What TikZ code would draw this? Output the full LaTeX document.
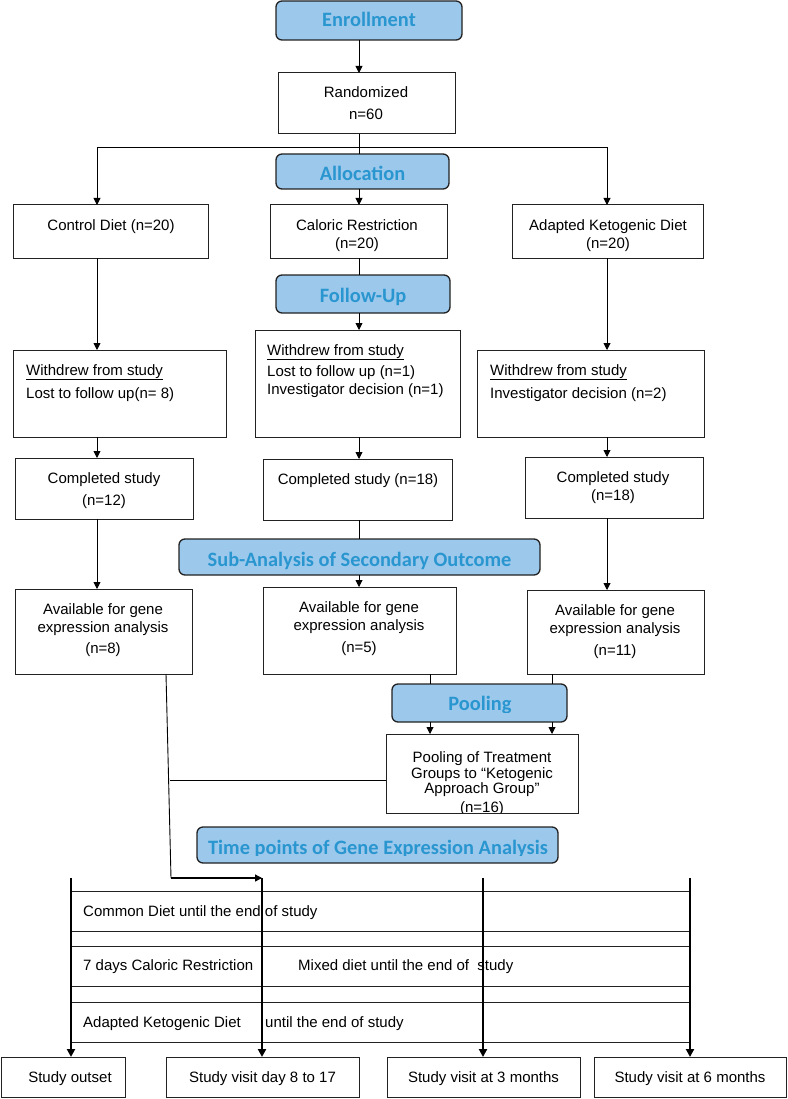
\documentclass[tikz,border=0pt]{standalone}
\usepackage{fontspec}
\setmainfont{Liberation Sans}
\newfontfamily\hdrfont{Carlito}
\usetikzlibrary{arrows.meta,fit}
\definecolor{hdrfill}{HTML}{9CC8EC}
\definecolor{hdrtext}{HTML}{2A96D0}
\definecolor{edge}{HTML}{222222}
\begin{document}
\begin{tikzpicture}[x=1pt,y=-1pt,
  box/.style={draw=edge, line width=1pt, inner sep=0pt, outer sep=0pt},
  hdr/.style={draw=edge, line width=1.3pt, fill=hdrfill, rounded corners=6pt, inner sep=0pt, outer sep=0pt},
  htxt/.style={font=\hdrfont\bfseries\fontsize{20.4}{24}\selectfont, text=hdrtext, inner sep=0pt, anchor=base},
  txt/.style={font=\fontsize{15}{18}\selectfont, inner sep=0pt, anchor=base},
  ltxt/.style={txt, anchor=base west},
  conn/.style={draw=black, line width=0.9pt},
  arr/.style={conn, -{Triangle[length=7pt,width=7pt]}},
  tline/.style={draw=black, line width=2pt, -{Triangle[length=8pt,width=8pt]}},
  thin/.style={draw=edge, line width=1pt},
]
\useasboundingbox (0,0) rectangle (787,1099);

% column coordinates
\coordinate (xL) at (97,0);
\coordinate (xM) at (359,0);
\coordinate (xR) at (607,0);
\coordinate (p1) at (430,0);
\coordinate (p2) at (552,0);
\coordinate (s0) at (166,0);

% ---------- headers ----------
\node[hdr, fit={(276,1)(462,40)}] (enr) {};
\node[htxt] (enrt) at (369,27) {Enrollment};
\node[hdr, fit={(276,154)(449,189)}] (alc) {};
\node[htxt] (alct) at (362.5,181) {Allocation};
\node[hdr, fit={(276,275)(450,313)}] (fup) {};
\node[htxt] (fupt) at (363,302) {Follow-Up};
\node[hdr, fit={(179,539)(540,575)}] (sub) {};
\begin{scope}
\clip (179,539) rectangle (540,569);
\node[htxt] (subt) at (359.5,566) {Sub-Analysis of Secondary Outcome};
\end{scope}
\node[hdr, fit={(392,684)(567,722)}] (pool) {};
\begin{scope}
\clip (392,684) rectangle (567,712.3);
\node[htxt] (poolt) at (480,710) {Pooling};
\end{scope}
\node[hdr, fit={(197,827)(558,863)}] (time) {};
\begin{scope}
\clip (197,827) rectangle (558,855.5);
\node[htxt] (timet) at (378,854) {Time points of Gene Expression Analysis};
\end{scope}

% ---------- boxes ----------
\node[box, fit={(278,73)(455,134)}] (rnd) {};
\node[txt] (rndt1) at (366,98) {Randomized};
\node[txt] (rndt2) at (366,120) {n=60};

\node[box, fit={(13,205)(208,258)}] (ctl) {};
\node[txt] (ctlt) at (111,231) {Control Diet (n=20)};
\node[box, fit={(270,205)(447,258)}] (cal) {};
\node[txt] (calt1) at (357,230) {Caloric Restriction};
\node[txt] (calt2) at (357,248) {(n=20)};
\node[box, fit={(512,205)(703,258)}] (adk) {};
\node[txt] (adkt1) at (608,230) {Adapted Ketogenic Diet};
\node[txt] (adkt2) at (608,248) {(n=20)};

\node[box, fit={(13,350)(226,437)}] (wL) {};
\node[ltxt] (wLt1) at (26,375) {\underline{Withdrew from study}};
\node[ltxt] (wLt2) at (26,398) {Lost to follow up(n= 8)};
\node[box, fit={(255,330)(460,437)}] (wM) {};
\node[ltxt] (wMt1) at (267,355) {\underline{Withdrew from study}};
\node[ltxt] (wMt2) at (267,376) {Lost to follow up (n=1)};
\node[ltxt] (wMt3) at (267,394) {Investigator decision (n=1)};
\node[box, fit={(477,350)(704,437)}] (wR) {};
\node[ltxt] (wRt1) at (490,375) {\underline{Withdrew from study}};
\node[ltxt] (wRt2) at (490,398) {Investigator decision (n=2)};

\node[box, fit={(15,458)(193,519)}] (cL) {};
\node[txt] (cLt1) at (104,483) {Completed study};
\node[txt] (cLt2) at (104,505) {(n=12)};
\node[box, fit={(263,459)(452,520)}] (cM) {};
\node[txt] (cMt) at (358,484) {Completed study (n=18)};
\node[box, fit={(525,457)(703,518)}] (cR) {};
\node[txt] (cRt1) at (613,482) {Completed study};
\node[txt] (cRt2) at (613,500) {(n=18)};

\node[box, fit={(15,589)(192,674)}] (aL) {};
\node[txt] (aLt1) at (103,614) {Available for gene};
\node[txt] (aLt2) at (103,632) {expression analysis};
\node[txt] (aLt3) at (103,653) {(n=8)};
\node[box, fit={(263,587)(456,674)}] (aM) {};
\node[txt] (aMt1) at (359,612) {Available for gene};
\node[txt] (aMt2) at (359,630) {expression analysis};
\node[txt] (aMt3) at (359,652) {(n=5)};
\node[box, fit={(527,590)(704,674)}] (aR) {};
\node[txt] (aRt1) at (615,615) {Available for gene};
\node[txt] (aRt2) at (615,633) {expression analysis};
\node[txt] (aRt3) at (615,655) {(n=11)};

\node[box, fit={(386,734)(578,813)}] (tr) {};
\begin{scope}
\clip (386,734) rectangle (578,812.5);
\node[txt] (trt1) at (482,762) {Pooling of Treatment};
\node[txt] (trt2) at (482,778) {Groups to “Ketogenic};
\node[txt] (trt3) at (482,793) {Approach Group”};
\node[txt] (trt4) at (482,812) {(n=16)};
\end{scope}

% bottom boxes
\node[box, fit={(1,1057)(125,1097)}] (b1) {};
\node[txt] (b1t) at (70,1082) {Study outset};
\node[box, fit={(166,1057)(359,1097)}] (b2) {};
\node[txt] (b2t) at (262.5,1082) {Study visit day 8 to 17};
\node[box, fit={(387,1057)(580,1097)}] (b3) {};
\node[txt] (b3t) at (483.5,1082) {Study visit at 3 months};
\node[box, fit={(594,1057)(786,1097)}] (b4) {};
\node[txt] (b4t) at (690,1082) {Study visit at 6 months};

% ---------- connectors ----------
\draw[arr] (enr.south -| xM) -- (rnd.north -| xM);
\draw[conn] (rnd.south -| xM) -- (alc.north -| xM);
\coordinate (hl) at (97,147);
\coordinate (hr) at (607,147);
\draw[conn] (hl) -- (hr);
\draw[arr] (hl) -- (ctl.north -| hl);
\draw[arr] (hr) -- (adk.north -| hr);
\draw[arr] (alc.south -| xM) -- (cal.north -| xM);
\draw[conn] (cal.south -| xM) -- (fup.north -| xM);
\draw[arr] (fup.south -| xM) -- (wM.north -| xM);
\draw[arr] (ctl.south -| xL) -- (wL.north -| xL);
\draw[arr] (adk.south -| xR) -- (wR.north -| xR);
\draw[arr] (wL.south -| xL) -- (cL.north -| xL);
\draw[arr] (wM.south -| xM) -- (cM.north -| xM);
\draw[arr] (wR.south -| xR) -- (cR.north -| xR);
\draw[conn] (cM.south -| xM) -- (sub.north -| xM);
\draw[arr] (sub.south -| xM) -- (aM.north -| xM);
\draw[arr] (cL.south -| xL) -- (aL.north -| xL);
\draw[arr] (cR.south -| xR) -- (aR.north -| xR);
\draw[conn] (aM.south -| p1) -- (pool.north -| p1);
\draw[conn] (aR.south -| p2) -- (pool.north -| p2);
\draw[arr] (pool.south -| p1) -- (tr.north -| p1);
\draw[arr] (pool.south -| p2) -- (tr.north -| p2);

\coordinate (join) at (170,780);
\coordinate (elbow) at (171,878);
\coordinate (t1) at (71,878);
\coordinate (t2) at (262,878);
\coordinate (t3) at (483,878);
\coordinate (t4) at (690,878);
\draw[conn] (join -| tr.west) -- (join);
\draw[conn] (aL.south -| s0) -- (elbow);
\draw[arr, line width=1.3pt] (elbow) -- (t2);

% ---------- timeline ----------
\foreach \yy in {891,931,946,986,1002,1042}
  \draw[thin] (71,\yy) -- (690,\yy);
\node[ltxt] (r1) at (83,916) {Common Diet until the end of study};
\node[ltxt] (r2a) at (83,970) {7 days Caloric Restriction};
\node[ltxt] (r2b) at (298,970) {Mixed diet until the end of\ \ study};
\node[ltxt] (r3a) at (83,1027) {Adapted Ketogenic Diet};
\node[ltxt] (r3b) at (265,1027) {until the end of study};

\draw[tline] (t1) -- (b1.north -| t1);
\draw[tline] (t2) -- (b2.north -| t2);
\draw[tline] (t3) -- (b3.north -| t3);
\draw[tline] (t4) -- (b4.north -| t4);
\end{tikzpicture}
\end{document}
